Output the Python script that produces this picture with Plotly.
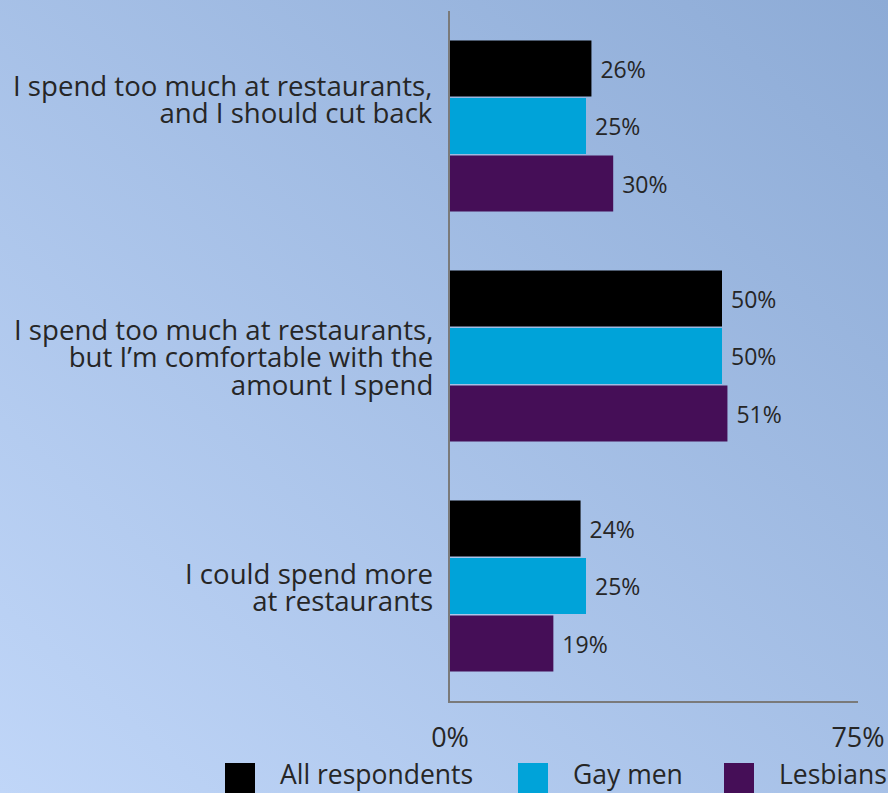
import base64
import plotly.graph_objects as go

# ---- data ----
categories = [
    "I spend too much at restaurants,\nand I should cut back",
    "I spend too much at restaurants,\nbut I\u2019m comfortable with the\namount I spend",
    "I could spend more\nat restaurants",
]
series_names = ["All respondents", "Gay men", "Lesbians"]
all_respondents = [26, 50, 24]
gay_men = [25, 50, 25]
lesbians = [30, 51, 19]
x_tick_values = [0, 75]
x_tick_labels = ["0%", "75%"]

series_values = [all_respondents, gay_men, lesbians]
series_colors = ["#000000", "#00A3D9", "#450E57"]

# ---- canvas geometry ----
W, H = 888, 793
L, R, T, B = 450, 30, 11, 92
PW, PH = W - L - R, H - T - B

FONT = "Open Sans, Lato, sans-serif"
TEXT = "#262626"
AXIS = "#7a7a7a"


def paper_x(px):
    return (px - L) / PW


def paper_y(py):
    return (H - B - py) / PH


# soft diagonal blue gradient behind everything
svg = (
    f"<svg xmlns='http://www.w3.org/2000/svg' width='{W}' height='{H}'>"
    "<defs><linearGradient id='g' x1='1' y1='0' x2='0' y2='1'>"
    "<stop offset='0' stop-color='#8dabd6'/>"
    "<stop offset='1' stop-color='#c0d6f8'/>"
    "</linearGradient></defs>"
    f"<rect width='{W}' height='{H}' fill='url(#g)'/></svg>"
)
bg_src = "data:image/svg+xml;base64," + base64.b64encode(svg.encode()).decode()

cat_idx = list(range(len(categories)))

fig = go.Figure()
for name, vals, color in zip(series_names, series_values, series_colors):
    fig.add_trace(
        go.Bar(
            x=vals,
            y=cat_idx,
            orientation="h",
            name=name,
            marker=dict(color=color, line=dict(width=0)),
            texttemplate="\u00a0%{x}%",
            textposition="outside",
            textfont=dict(family=FONT, size=23, color=TEXT),
            constraintext="none",
            cliponaxis=False,
            showlegend=False,
            hoverinfo="skip",
        )
    )

annotations = []
# category labels: tight leading (line pitch set by the base font size,
# glyphs enlarged through an inline span)
LABEL_SIZE = 27.6
LEADING_BASE = 21
label_lift = {0: 28}
for i, label in enumerate(categories):
    html = "<br>".join(
        f"<span style='font-size:{LABEL_SIZE}px'>{line}</span>"
        for line in label.split("\n")
    )
    annotations.append(
        dict(
            text=html,
            xref="paper",
            x=0,
            xanchor="right",
            xshift=-15,
            align="right",
            yref="y",
            y=i,
            yanchor="middle",
            yshift=label_lift.get(i, 0),
            showarrow=False,
            font=dict(family=FONT, size=LEADING_BASE, color=TEXT),
        )
    )

# legend drawn as large swatches with labels underneath the axis
shapes = []
legend_swatch_x = [225, 518, 724]
for name, color, sx in zip(series_names, series_colors, legend_swatch_x):
    shapes.append(
        dict(
            type="rect",
            xref="paper",
            yref="paper",
            x0=paper_x(sx),
            x1=paper_x(sx + 30),
            y0=paper_y(763),
            y1=paper_y(796),
            fillcolor=color,
            line=dict(width=0),
            layer="above",
        )
    )
    annotations.append(
        dict(
            text=name,
            xref="paper",
            x=paper_x(sx + 53),
            xanchor="left",
            yref="paper",
            y=paper_y(774),
            yanchor="middle",
            showarrow=False,
            font=dict(family=FONT, size=26.5, color=TEXT),
        )
    )

fig.update_layout(
    width=W,
    height=H,
    margin=dict(l=L, r=R, t=T, b=B, autoexpand=False),
    paper_bgcolor="#a8c1e8",
    plot_bgcolor="rgba(0,0,0,0)",
    barmode="group",
    bargap=0.25,
    bargroupgap=0.03,
    showlegend=False,
    font=dict(family=FONT, color=TEXT),
    images=[
        dict(
            source=bg_src,
            xref="paper",
            yref="paper",
            x=paper_x(0),
            y=paper_y(0),
            sizex=W / PW,
            sizey=H / PH,
            xanchor="left",
            yanchor="top",
            sizing="stretch",
            layer="below",
        )
    ],
    xaxis=dict(
        range=[0, 75],
        tickvals=x_tick_values,
        ticktext=x_tick_labels,
        tickfont=dict(family=FONT, size=27, color=TEXT),
        ticks="",
        ticklabelstandoff=12,
        showgrid=False,
        zeroline=False,
        showline=True,
        linecolor=AXIS,
        linewidth=2,
        fixedrange=True,
    ),
    yaxis=dict(
        range=[len(categories) - 0.5, -0.5],
        showticklabels=False,
        ticks="",
        showgrid=False,
        zeroline=False,
        showline=True,
        linecolor=AXIS,
        linewidth=2,
        fixedrange=True,
    ),
    annotations=annotations,
    shapes=shapes,
)

fig.write_html("out.html", config={"displayModeBar": False})
